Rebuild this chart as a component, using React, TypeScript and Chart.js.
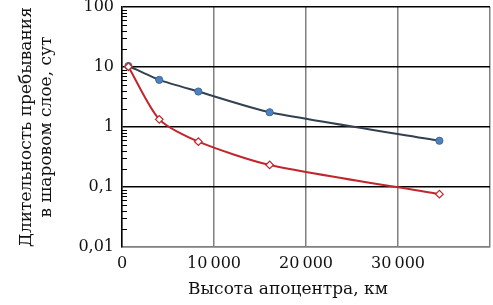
import React, { useEffect, useRef } from "react";
import { Chart, registerables } from "chart.js";

Chart.register(...registerables);

const apocenterKm = [700, 4050, 8300, 16050, 34500];
const filledSeries = [10.4, 6.1, 3.9, 1.76, 0.59];
const openSeries = [10.1, 1.34, 0.57, 0.233, 0.076];
const yTicks = [0.01, 0.1, 1, 10, 100];
const xTicks = [0, 10000, 20000, 30000, 40000];
const yTitleLines = ["Длительность пребывания", "в шаровом слое, сут"];
const xTitle = "Высота апоцентра, км";

const FONT = "'DejaVu Serif', 'Liberation Serif', serif";

const fmtY = (v: number) => String(v).replace(".", ",");
const fmtX = (v: number) =>
  v === 40000 ? "" : v === 0 ? "0" : String(v).replace(/(\d)(?=(\d{3})+$)/g, "$1\u2009");

const minorTicks = {
  id: "minorTicks",
  afterDatasetsDraw(chart: any) {
    const y = chart.scales.y;
    const x0 = chart.chartArea.left;
    const ctx = chart.ctx;
    ctx.save();
    ctx.strokeStyle = "#000";
    ctx.lineWidth = 1;
    for (let d = 0.01; d < 100; d *= 10) {
      for (let m = 2; m <= 9; m++) {
        const py = Math.round(y.getPixelForValue(m * d)) + 0.5;
        ctx.beginPath();
        ctx.moveTo(x0, py);
        ctx.lineTo(x0 + 5, py);
        ctx.stroke();
      }
    }
    ctx.fillStyle = "#111";
    ctx.font = `17px ${FONT}`;
    ctx.textAlign = "center";
    ctx.textBaseline = "middle";
    ctx.fillText(xTitle, 288, 290);
    ctx.restore();
  },
};

export default function App() {
  const ref = useRef<HTMLCanvasElement>(null);
  useEffect(() => {
    document.body.style.margin = "0";
    const chart = new Chart(ref.current!, {
      type: "line",
      data: {
        datasets: [
          {
            data: apocenterKm.map((x, i) => ({ x, y: openSeries[i] })),
            borderColor: "#c0262c",
            borderWidth: 2,
            pointStyle: "rectRot",
            pointRadius: 3.8,
            pointBackgroundColor: "#ffffff",
            pointBorderColor: "#c0262c",
            pointBorderWidth: 1.2,
            tension: 0.25,
          },
          {
            data: apocenterKm.map((x, i) => ({ x, y: filledSeries[i] })),
            borderColor: "#33404f",
            borderWidth: 2,
            pointStyle: "circle",
            pointRadius: 3.6,
            pointBackgroundColor: "#4f81bd",
            pointBorderColor: "#3d6a9e",
            pointBorderWidth: 1,
            tension: 0.2,
          },
        ],
      },
      options: {
        responsive: false,
        animation: false,
        layout: { autoPadding: false, padding: { top: 7, right: 3, left: 0, bottom: 0 } },
        plugins: { legend: { display: false }, tooltip: { enabled: false } },
        scales: {
          x: {
            type: "linear",
            min: 0,
            max: 40000,
            afterBuildTicks: (s: any) => {
              s.ticks = xTicks.map((value) => ({ value }));
            },
            afterFit: (s: any) => {
              s.height = 58;
              s.paddingLeft = 0;
              s.paddingRight = 0;
            },
            ticks: {
              callback: (v: any) => fmtX(Number(v)),
              color: "#111",
              font: { family: FONT, size: 16 },
              padding: 7,
              maxRotation: 0,
            },
            grid: {
              color: "#808080",
              lineWidth: 1.5,
              drawTicks: false,
            },
            border: { color: "#808080", width: 1.5 },
          },
          y: {
            type: "logarithmic",
            min: 0.01,
            max: 100,
            afterBuildTicks: (s: any) => {
              s.ticks = yTicks.map((value) => ({ value }));
            },
            afterFit: (s: any) => {
              s.width = 122;
              s.paddingTop = 0;
              s.paddingBottom = 0;
            },
            ticks: {
              callback: (v: any) => fmtY(Number(v)),
              color: "#111",
              font: { family: FONT, size: 16 },
              padding: 8,
            },
            grid: {
              color: (c: any) => (c.tick && c.tick.value === 0.01 ? "#808080" : "#000"),
              lineWidth: 1.5,
              drawTicks: false,
            },
            border: { color: "#000", width: 1.5 },
            title: {
              display: true,
              text: yTitleLines,
              color: "#111",
              font: { family: FONT, size: 17, lineHeight: 1.15 },
              padding: { top: 17, bottom: 0 },
            },
          },
        },
      },
      plugins: [minorTicks],
    });
    return () => chart.destroy();
  }, []);
  return (
    <div style={{ position: "absolute", left: 0, top: 0, width: 493, height: 305 }}>
      <canvas ref={ref} width={493} height={305} />
    </div>
  );
}
